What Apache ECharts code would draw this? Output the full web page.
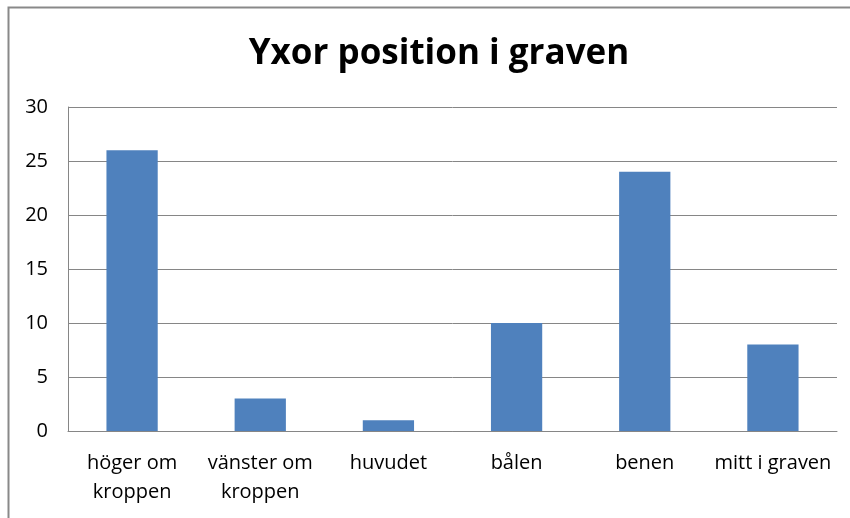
<!DOCTYPE html>
<html>
<head>
<meta charset="utf-8">
<script src="https://cdn.jsdelivr.net/npm/echarts@6/dist/echarts.min.js"></script>
<style>
  html, body { margin: 0; padding: 0; background: #fff; }
  #main { width: 850px; height: 518px; }
</style>
</head>
<body>
<div id="main"></div>
<script>
const categories = ["höger om\nkroppen", "vänster om\nkroppen", "huvudet", "bålen", "benen", "mitt i graven"];
const values = [26, 3, 1, 10, 24, 8];
const yTicks = [0, 5, 10, 15, 20, 25, 30];

const chart = echarts.init(document.getElementById("main"));
const font = "'Open Sans', 'Noto Sans', sans-serif";

chart.setOption({
  animation: false,
  title: {
    text: "Yxor position i graven",
    left: 434,
    textAlign: "center",
    top: 32,
    textStyle: { fontFamily: font, fontSize: 35, fontWeight: "bold", color: "#000" }
  },
  graphic: [{
    type: "rect",
    shape: { x: 8.5, y: 7.5, width: 860, height: 530 },
    style: { fill: "none", stroke: "#898989", lineWidth: 2 },
    silent: true
  }],
  grid: { left: 68, right: 13, top: 107, bottom: 87 },
  xAxis: {
    type: "category",
    data: categories,
    axisTick: { show: false },
    axisLine: { lineStyle: { color: "#868686", width: 1 } },
    axisLabel: { fontFamily: font, fontSize: 20, color: "#000", margin: 18, lineHeight: 29, interval: 0 }
  },
  yAxis: {
    type: "value",
    min: yTicks[0],
    max: yTicks[yTicks.length - 1],
    interval: 5,
    axisLine: { show: true, lineStyle: { color: "#868686" } },
    axisTick: { show: false },
    splitLine: { lineStyle: { color: "#868686" } },
    axisLabel: { fontFamily: font, fontSize: 20, color: "#000", margin: 20, align: "right" }
  },
  series: [{
    type: "bar",
    data: values,
    barWidth: "40%",
    itemStyle: { color: "#4f81bd" }
  }]
});
</script>
</body>
</html>
